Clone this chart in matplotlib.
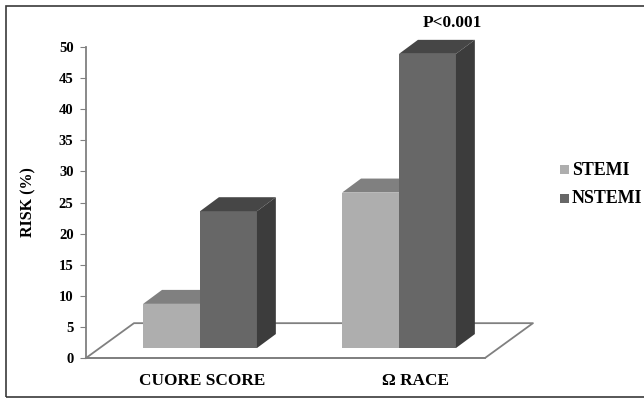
import matplotlib
matplotlib.use('Agg')
import matplotlib.pyplot as plt
from matplotlib.patches import Polygon, Rectangle

categories = ['CUORE SCORE', 'Ω RACE']
stemi = [7.1, 25.0]
nstemi = [22.0, 47.3]
y_ticks = [0, 5, 10, 15, 20, 25, 30, 35, 40, 45, 50]

W, H = 644, 398
FLOOR = 1.6   # bars stand on the floor, a bit above the axis zero
BAR_W = 0.286
DX, DY = 0.095, 2.25   # 3d depth in data units

plt.rcParams['font.family'] = ['Liberation Serif', 'DejaVu Serif']
plt.rcParams['font.weight'] = 'bold'

fig = plt.figure(figsize=(W / 100, H / 100), dpi=100)
# frame runs off the right edge of the image
fig.patches.append(Rectangle((6 / W, 1 - 397 / H), 650 / W, 391.3 / H, transform=fig.transFigure,
                             fc='none', ec='#3a3a3a', lw=1.2, zorder=-1))

ax = fig.add_axes([86 / W, 1 - 358 / H, 399 / W, 311 / H])
ax.patch.set_alpha(0)
ax.set_xlim(-0.573, 1.432)
ax.set_ylim(0, 50)

# floor
floor_x = [-0.573, 1.432, 1.432 + 0.241, -0.573 + 0.241, -0.573]
floor_y = [0, 0, 5.6, 5.6, 0]
ax.plot(floor_x, floor_y, color='#808080', lw=1.3, clip_on=False, zorder=1)


def bar3d(x, val, front, top, side):
    # x is the left edge of the front face
    ax.bar(x, val, BAR_W, bottom=FLOOR, align='edge', color=front, zorder=3)
    y = FLOOR + val
    r = x + BAR_W
    ax.add_patch(Polygon([(x, y), (r, y), (r + DX, y + DY), (x + DX, y + DY)],
                         fc=top, ec='none', zorder=3, clip_on=False))
    ax.add_patch(Polygon([(r, FLOOR), (r + DX, FLOOR + DY), (r + DX, y + DY), (r, y)],
                         fc=side, ec='none', zorder=3, clip_on=False))


for i in range(len(categories)):
    bar3d(i - BAR_W, stemi[i], '#aeaeae', '#808080', '#7a7a7a')
    bar3d(i, nstemi[i], '#676767', '#464646', '#3c3c3c')

for s in ['top', 'right']:
    ax.spines[s].set_visible(False)
for s in ['left', 'bottom']:
    ax.spines[s].set_color('#808080')
    ax.spines[s].set_linewidth(1.3)

ax.set_yticks(y_ticks)
ax.tick_params(axis='y', length=4, color='#808080', labelsize=10.5, pad=5)
# labels sit a little right of the bar groups in the original
ax.set_xticks([0.01, 1.085])
ax.set_xticklabels(categories, fontsize=12.4)
ax.tick_params(axis='x', length=0, pad=11)
ax.set_ylabel('RISK (%)', fontsize=11.5, fontweight='bold', labelpad=16)

ax.text(1.27, 53.9, 'P<0.001', fontsize=12.4, ha='center', va='center', clip_on=False)

# legend
fig.patches.append(Rectangle((560 / W, 1 - 174 / H), 9 / W, 9 / H, transform=fig.transFigure, fc='#aeaeae', ec='none'))
fig.patches.append(Rectangle((560 / W, 1 - 203 / H), 9 / W, 9 / H, transform=fig.transFigure, fc='#676767', ec='none'))
fig.text(572 / W, 1 - 171 / H, 'STEMI', fontsize=12.9, va='center')
fig.text(572 / W, 1 - 198 / H, 'NSTEMI', fontsize=12.9, va='center')

fig.savefig('out.png', dpi=100)
